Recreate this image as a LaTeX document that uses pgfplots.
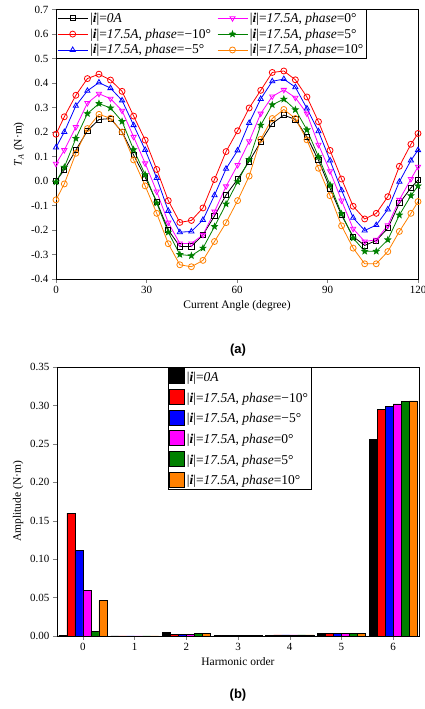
\documentclass[border=0pt]{standalone}
\usepackage{fontspec}
\setmainfont{Liberation Serif}
\newfontfamily\arial{Liberation Sans}
\usepackage{pgfplots}
\usepackage{pgfplotstable}
\pgfplotsset{compat=1.18}
\definecolor{cRed}{RGB}{255,0,0}
\definecolor{cBlue}{RGB}{0,0,255}
\definecolor{cMag}{RGB}{255,0,255}
\definecolor{cGreen}{RGB}{0,128,0}
\definecolor{cOrange}{RGB}{255,128,0}
\pgfdeclareplotmark{fstar}{%
  \pgfpathmoveto{\pgfpointpolar{90}{\pgfplotmarksize}}%
  \pgfpathlineto{\pgfpointpolar{126}{0.42\pgfplotmarksize}}%
  \pgfpathlineto{\pgfpointpolar{162}{\pgfplotmarksize}}%
  \pgfpathlineto{\pgfpointpolar{198}{0.42\pgfplotmarksize}}%
  \pgfpathlineto{\pgfpointpolar{234}{\pgfplotmarksize}}%
  \pgfpathlineto{\pgfpointpolar{270}{0.42\pgfplotmarksize}}%
  \pgfpathlineto{\pgfpointpolar{306}{\pgfplotmarksize}}%
  \pgfpathlineto{\pgfpointpolar{342}{0.42\pgfplotmarksize}}%
  \pgfpathlineto{\pgfpointpolar{18}{\pgfplotmarksize}}%
  \pgfpathlineto{\pgfpointpolar{54}{0.42\pgfplotmarksize}}%
  \pgfpathclose\pgfusepathqfillstroke}
\newcommand{\Ii}{|\textbf{\textit{i}}|}
\pgfplotstableread{
x b r u m g o
0 0.000 0.191 0.137 0.070 -0.004 -0.077
2.75 0.045 0.262 0.200 0.126 0.056 -0.012
6.58 0.126 0.350 0.307 0.220 0.174 0.113
10.41 0.205 0.418 0.368 0.318 0.275 0.214
14.24 0.251 0.436 0.402 0.356 0.316 0.272
18.07 0.255 0.412 0.379 0.336 0.298 0.256
21.9 0.200 0.366 0.329 0.287 0.243 0.200
25.73 0.106 0.265 0.228 0.180 0.128 0.086
29.56 0.015 0.167 0.127 0.072 0.026 -0.020
33.39 -0.085 0.047 0.012 -0.043 -0.090 -0.132
37.22 -0.200 -0.080 -0.122 -0.170 -0.209 -0.256
41.05 -0.267 -0.169 -0.209 -0.255 -0.300 -0.342
44.88 -0.267 -0.161 -0.206 -0.255 -0.305 -0.350
48.71 -0.220 -0.110 -0.159 -0.220 -0.274 -0.324
52.54 -0.143 0.006 -0.058 -0.125 -0.186 -0.247
56.37 -0.057 0.120 0.050 -0.022 -0.094 -0.170
60.2 0.007 0.205 0.125 0.065 -0.003 -0.080
64.03 0.080 0.298 0.237 0.162 0.087 0.020
67.86 0.160 0.370 0.335 0.275 0.228 0.170
71.69 0.235 0.443 0.407 0.345 0.311 0.255
75.52 0.269 0.449 0.416 0.372 0.334 0.292
79.35 0.251 0.413 0.383 0.340 0.291 0.255
83.18 0.180 0.343 0.296 0.275 0.209 0.168
87.01 0.085 0.242 0.203 0.148 0.099 0.052
90.84 -0.030 0.125 0.084 0.040 -0.016 -0.060
94.67 -0.140 0.008 -0.038 -0.080 -0.134 -0.183
98.5 -0.227 -0.103 -0.150 -0.195 -0.233 -0.274
102.33 -0.263 -0.155 -0.202 -0.247 -0.287 -0.338
106.16 -0.243 -0.132 -0.180 -0.240 -0.287 -0.338
109.99 -0.193 -0.064 -0.116 -0.181 -0.240 -0.288
113.82 -0.091 0.060 -0.003 -0.077 -0.139 -0.206
117.65 -0.028 0.150 0.084 0.008 -0.060 -0.132
120 0.004 0.194 0.126 0.058 -0.020 -0.084
}\torque
\begin{document}
\begin{tikzpicture}
\useasboundingbox (0pt,0pt) rectangle (425pt,709pt);
\begin{axis}[
  at={(56pt,430pt)}, anchor=south west, scale only axis,
  width=362pt, height=269.5pt,
  xmin=0, xmax=120, ymin=-0.4, ymax=0.7,
  xtick={0,30,60,90,120},
  ytick={-0.4,-0.3,-0.2,-0.1,0,0.1,0.2,0.3,0.4,0.5,0.6,0.7},
  /pgf/number format/assume math mode=true,
  yticklabel style={/pgf/number format/fixed,/pgf/number format/precision=1,/pgf/number format/fixed zerofill},
  tick label style={font=\fontsize{11}{12}\selectfont},
  label style={font=\fontsize{11.5}{13}\selectfont},
  tick pos=left, tick align=outside, major tick length=4pt,
  axis line style={line width=0.8pt},
  xlabel={Current Angle (degree)},
  ylabel={\textit{T}\textsubscript{\textit{A}} (N·m)},
  every axis plot/.append style={line width=0.8pt, mark size=3pt},
  legend columns=2,
  legend style={at={(0,1)}, anchor=north west, draw=black, line width=0.6pt,
    font=\fontsize{13.5}{15}\selectfont, inner sep=1pt, row sep=1pt,
    /tikz/every even column/.append style={column sep=4pt}},
  legend cell align=left,
  legend image code/.code={\draw[mark repeat=2,mark phase=2,#1] plot coordinates {(0pt,0pt) (15pt,0pt) (30pt,0pt)};},
]
\addplot[black, mark=square, mark options={solid}, mark size=2.6pt] table[x=x,y=b]{\torque};
\addlegendentry{\Ii=\textit{0A}}
\addplot[cMag, mark=triangle, mark options={rotate=180}] table[x=x,y=m]{\torque};
\addlegendentry{\Ii=\textit{17.5A}, \textit{phase}=0°}
\addplot[cRed, mark=o] table[x=x,y=r]{\torque};
\addlegendentry{\Ii=\textit{17.5A}, \textit{phase}=−10°}
\addplot[cGreen, mark=fstar, mark options={fill=cGreen}] table[x=x,y=g]{\torque};
\addlegendentry{\Ii=\textit{17.5A}, \textit{phase}=5°}
\addplot[cBlue, mark=triangle] table[x=x,y=u]{\torque};
\addlegendentry{\Ii=\textit{17.5A}, \textit{phase}=−5°}
\addplot[cOrange, mark=o] table[x=x,y=o]{\torque};
\addlegendentry{\Ii=\textit{17.5A}, \textit{phase}=10°}
\end{axis}
\node[font=\arial\bfseries\fontsize{13}{14}\selectfont] at (238pt,359pt) {(a)};
\begin{axis}[
  at={(57pt,73pt)}, anchor=south west, scale only axis,
  width=362pt, height=269pt,
  xmin=-0.5, xmax=6.5, ymin=0, ymax=0.35,
  xtick={0,1,2,3,4,5,6},
  ytick={0,0.05,0.1,0.15,0.2,0.25,0.3,0.35},
  /pgf/number format/assume math mode=true,
  yticklabel style={/pgf/number format/fixed,/pgf/number format/precision=2,/pgf/number format/fixed zerofill},
  tick label style={font=\fontsize{11}{12}\selectfont},
  label style={font=\fontsize{11.5}{13}\selectfont},
  tick pos=left, tick align=outside, major tick length=4pt,
  axis line style={line width=0.8pt},
  xlabel={Harmonic order},
  ylabel={Amplitude (N·m)},
  ybar, bar width=0.155, 
  every axis plot/.append style={draw=black, line width=0.5pt, bar shift=0pt},
  legend style={at={(0.307,1)}, anchor=north west, draw=black, line width=0.6pt,
    font=\fontsize{13.5}{15}\selectfont, inner sep=1pt, row sep=4pt},
  legend cell align=left,
  legend image code/.code={\draw[#1,draw=black,line width=0.5pt] (0pt,-6pt) rectangle (15pt,9pt);},
]
\addplot[fill=black] coordinates {(-0.3875,0.001) (0.6125,0.0003) (1.6125,0.0043) (2.6125,0.0005) (3.6125,0.0012) (4.6125,0.0035) (5.6125,0.2555)};
\addlegendentry{\Ii=\textit{0A}}
\addplot[fill=cRed] coordinates {(-0.2325,0.160) (0.7675,0.0003) (1.7675,0.0026) (2.7675,0.0005) (3.7675,0.0015) (4.7675,0.0039) (5.7675,0.295)};
\addlegendentry{\Ii=\textit{17.5A}, \textit{phase}=−10°}
\addplot[fill=cBlue] coordinates {(-0.0775,0.111) (0.9225,0.0003) (1.9225,0.0026) (2.9225,0.0005) (3.9225,0.0015) (4.9225,0.0039) (5.9225,0.299)};
\addlegendentry{\Ii=\textit{17.5A}, \textit{phase}=−5°}
\addplot[fill=cMag] coordinates {(0.0775,0.059) (1.0775,0.0003) (2.0775,0.0026) (3.0775,0.0005) (4.0775,0.0015) (5.0775,0.0039) (6.0775,0.302)};
\addlegendentry{\Ii=\textit{17.5A}, \textit{phase}=0°}
\addplot[fill=cGreen] coordinates {(0.2325,0.0056) (1.2325,0.0003) (2.2325,0.003) (3.2325,0.0005) (4.2325,0.0015) (5.2325,0.0039) (6.2325,0.305)};
\addlegendentry{\Ii=\textit{17.5A}, \textit{phase}=5°}
\addplot[fill=cOrange] coordinates {(0.3875,0.046) (1.3875,0.0003) (2.3875,0.0035) (3.3875,0.0005) (4.3875,0.0015) (5.3875,0.0039) (6.3875,0.306)};
\addlegendentry{\Ii=\textit{17.5A}, \textit{phase}=10°}
\end{axis}
\node[font=\arial\bfseries\fontsize{13}{14}\selectfont] at (238pt,14pt) {(b)};
\end{tikzpicture}
\end{document}
